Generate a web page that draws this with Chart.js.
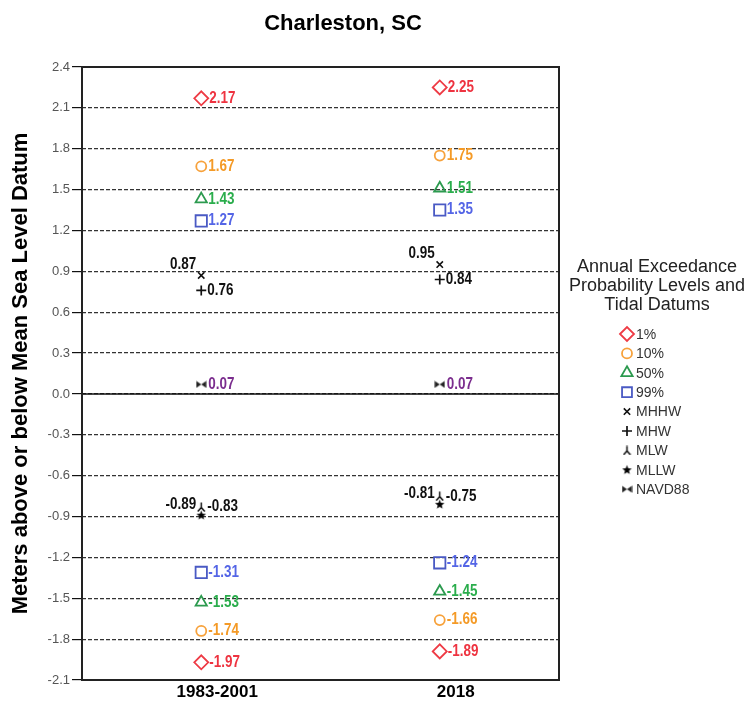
<!DOCTYPE html>
<html>
<head>
<meta charset="utf-8">
<script src="https://cdn.jsdelivr.net/npm/chart.js@4.4.1/dist/chart.umd.min.js"></script>
<style>
  html, body { margin: 0; padding: 0; background: #fff; }
  canvas { display: block; }
</style>
</head>
<body>
<canvas id="chart" width="750" height="702"></canvas>
<script>
// Periods on the x axis
const periods = ["1983-2001", "2018"];

// Annual exceedance probability levels (upper and lower)
const aep1High = [2.17, 2.25];
const aep1Low = [-1.97, -1.89];
const aep10High = [1.67, 1.75];
const aep10Low = [-1.74, -1.66];
const aep50High = [1.43, 1.51];
const aep50Low = [-1.53, -1.45];
const aep99High = [1.27, 1.35];
const aep99Low = [-1.31, -1.24];

// Tidal datums
const mhhw = [0.87, 0.95];
const mhw = [0.76, 0.84];
const mlw = [-0.83, -0.75];
const mllw = [-0.89, -0.81];
const navd88 = [0.07, 0.07];

const legendTitle = ["Annual Exceedance", "Probability Levels and", "Tidal Datums"];

function points(...series) {
    const out = [];
    series.forEach((values) => {
        values.forEach((v, i) => out.push({ x: periods[i], y: v }));
    });
    return out;
}

function makeShape(w, h, draw) {
    const c = document.createElement("canvas");
    c.width = w;
    c.height = h;
    draw(c.getContext("2d"), w, h);
    return c;
}

// inverted Y for MLW
const mlwShape = makeShape(9, 10, (g) => {
    g.strokeStyle = "#000";
    g.lineWidth = 1.4;
    g.beginPath();
    g.moveTo(4.5, 0.5);
    g.lineTo(4.5, 5.5);
    g.lineTo(1, 9.5);
    g.moveTo(4.5, 5.5);
    g.lineTo(8, 9.5);
    g.stroke();
});

// filled star for MLLW
const mllwShape = makeShape(11, 11, (g) => {
    g.fillStyle = "#000";
    g.beginPath();
    for (let k = 0; k < 10; k++) {
        const r = k % 2 === 0 ? 5 : 2.1;
        const a = -Math.PI / 2 + (k * Math.PI) / 5;
        const px = 5.5 + r * Math.cos(a);
        const py = 5.8 + r * Math.sin(a);
        if (k === 0) g.moveTo(px, py);
        else g.lineTo(px, py);
    }
    g.closePath();
    g.fill();
});

// bowtie for NAVD88
const navdShape = makeShape(11, 8, (g) => {
    g.fillStyle = "#222";
    g.beginPath();
    g.moveTo(0.5, 0.5);
    g.lineTo(5.5, 4);
    g.lineTo(0.5, 7.5);
    g.closePath();
    g.moveTo(10.5, 0.5);
    g.lineTo(5.5, 4);
    g.lineTo(10.5, 7.5);
    g.closePath();
    g.fill();
});

function series(label, data, style, color, labelColor, extra) {
    return Object.assign(
        {
            label: label,
            data: data,
            showLine: false,
            pointStyle: style,
            pointRadius: 5,
            pointHoverRadius: 5,
            pointBorderWidth: 1.8,
            pointBorderColor: color,
            pointBackgroundColor: "rgba(255,255,255,0)",
            labelColor: labelColor,
            labelGap: 7,
            labelSide: "right",
        },
        extra || {}
    );
}

const datasets = [
    series("1%", points(aep1High, aep1Low), "rectRot", "#ee3b45", "#ee3340", { pointRadius: 7, labelGap: 8 }),
    series("10%", points(aep10High, aep10Low), "circle", "#f7a23c", "#f49a26", { pointRadius: 5, labelGap: 7 }),
    series("50%", points(aep50High, aep50Low), "triangle", "#2c9a4f", "#2aad4c", { pointRadius: 6.5, labelGap: 7 }),
    series("99%", points(aep99High, aep99Low), "rect", "#4a5ac4", "#5465e6", { pointRadius: 8, labelGap: 7 }),
    series("MHHW", points(mhhw), "crossRot", "#111", "#111", { pointRadius: 4.5, pointBorderWidth: 1.6, labelSide: "upleft" }),
    series("MHW", points(mhw), "cross", "#111", "#111", { pointRadius: 5, pointBorderWidth: 1.7, labelGap: 6 }),
    series("MLW", points(mlw), mlwShape, "#111", "#111", { labelGap: 6 }),
    series("MLLW", points(mllw), mllwShape, "#111", "#111", { labelSide: "upleft" }),
    series("NAVD88", points(navd88), navdShape, "#222", "#7b2d8e", { labelGap: 7 }),
];

// narrow bold value labels beside each marker
const valueLabels = {
    id: "valueLabels",
    afterDatasetsDraw(chart) {
        const ctx = chart.ctx;
        ctx.save();
        ctx.font = 'bold 16px "Liberation Sans", Arial, sans-serif';
        ctx.textBaseline = "middle";
        chart.data.datasets.forEach((ds, i) => {
            const meta = chart.getDatasetMeta(i);
            meta.data.forEach((pt, j) => {
                const text = ds.data[j].y.toFixed(2);
                ctx.fillStyle = ds.labelColor;
                ctx.save();
                if (ds.labelSide === "upleft") {
                    ctx.textAlign = "right";
                    ctx.translate(pt.x - 5, pt.y - 11);
                } else {
                    ctx.textAlign = "left";
                    ctx.translate(pt.x + ds.labelGap, pt.y);
                }
                ctx.scale(0.84, 1);
                ctx.fillText(text, 0, 0);
                ctx.restore();
            });
        });
        ctx.restore();
    },
};

const frame = {
    id: "frame",
    beforeDatasetsDraw(chart) {
        const { ctx, chartArea } = chart;
        const y0 = chart.scales.y.getPixelForValue(0);
        ctx.save();
        ctx.strokeStyle = "#111";
        ctx.lineWidth = 1.6;
        ctx.beginPath();
        ctx.moveTo(chartArea.left, y0);
        ctx.lineTo(chartArea.right, y0);
        ctx.stroke();
        ctx.lineWidth = 2;
        ctx.strokeStyle = "#222";
        ctx.strokeRect(chartArea.left, chartArea.top, chartArea.right - chartArea.left, chartArea.bottom - chartArea.top);
        ctx.restore();
    },
};

const titleAndLegend = {
    id: "titleAndLegend",
    afterDraw(chart) {
        const ctx = chart.ctx;
        ctx.save();
        ctx.fillStyle = "#000";
        ctx.textAlign = "center";
        ctx.textBaseline = "middle";
        ctx.font = 'bold 22px "Liberation Sans", Arial, sans-serif';
        ctx.fillText("Charleston, SC", 343, 24);

        ctx.fillStyle = "#222";
        ctx.font = '18px "Liberation Sans", Arial, sans-serif';
        legendTitle.forEach((line, k) => ctx.fillText(line, 657, 267 + k * 19));

        ctx.textAlign = "left";
        ctx.font = '14px "Liberation Sans", Arial, sans-serif';
        chart.data.datasets.forEach((ds, i) => {
            const y = 334 + i * 19.4;
            ctx.save();
            ctx.strokeStyle = ds.pointBorderColor;
            ctx.fillStyle = ds.pointBackgroundColor;
            ctx.lineWidth = ds.pointBorderWidth;
            Chart.helpers.drawPoint(ctx, {
                pointStyle: ds.pointStyle,
                radius: Math.min(ds.pointRadius, 7),
                borderWidth: ds.pointBorderWidth,
                rotation: 0,
            }, 627, y);
            ctx.restore();
            ctx.fillStyle = "#333";
            ctx.fillText(ds.label, 636, y + 1);
        });
        ctx.restore();
    },
};

new Chart(document.getElementById("chart").getContext("2d"), {
    type: "line",
    data: {
        labels: periods,
        datasets: datasets,
    },
    options: {
        responsive: false,
        devicePixelRatio: 1,
        animation: false,
        layout: {
            padding: { top: 67, right: 191, bottom: 0, left: 0 },
        },
        plugins: {
            legend: { display: false },
            title: { display: false },
            tooltip: { enabled: false },
        },
        scales: {
            x: {
                type: "category",
                offset: true,
                grid: { display: false, drawTicks: false },
                border: { display: false },
                ticks: {
                    color: "#000",
                    padding: 4,
                    labelOffset: 16,
                    maxRotation: 0,
                    autoSkip: false,
                    font: { family: '"Liberation Sans", Arial, sans-serif', size: 17, weight: "bold", lineHeight: 1 },
                },
                afterFit(scale) {
                    scale.height = 22;
                },
            },
            y: {
                min: -2.1,
                max: 2.4,
                grid: {
                    color: "#333",
                    lineWidth: 1.2,
                    tickColor: "#111",
                    tickLength: 10,
                    tickWidth: 1.2,
                },
                border: { display: false, dash: [4, 2] },
                ticks: {
                    stepSize: 0.3,
                    padding: 2,
                    color: "#555",
                    font: { family: '"Liberation Sans", Arial, sans-serif', size: 13 },
                    callback: (v) => Number(v).toFixed(1),
                },
                title: {
                    display: true,
                    text: "Meters above or below Mean Sea Level Datum",
                    color: "#000",
                    padding: { top: 8, bottom: 0 },
                    font: { family: '"Liberation Sans", Arial, sans-serif', size: 22, weight: "bold" },
                },
                afterFit(scale) {
                    scale.width = 82;
                },
            },
        },
    },
    plugins: [frame, valueLabels, titleAndLegend],
});
</script>
</body>
</html>
